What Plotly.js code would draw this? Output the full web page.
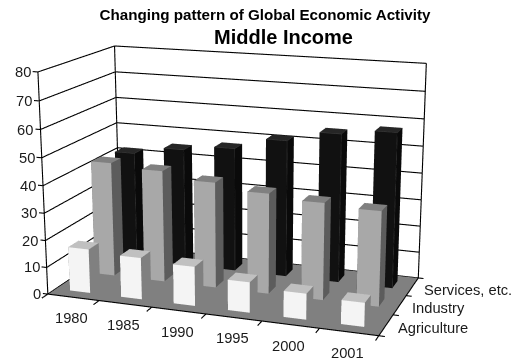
<!DOCTYPE html>
<html>
<head>
<meta charset="utf-8">
<script src="https://cdn.plot.ly/plotly-3.0.1.min.js"></script>
<style>
html,body{margin:0;padding:0;width:528px;height:364px;overflow:hidden;background:#fff}
#chart{position:absolute;left:-282px;top:-332px;width:1062px;height:1062px}
</style>
</head>
<body>
<div id="chart"></div>
<script>
// Changing pattern of global economic activity: share of output by sector, 3D columns
const years = ["1980","1985","1990","1995","2000","2001"];
const sectors = ["Agriculture","Industry","Services, etc."];
const agriculture = [16.3,15.3,14.3,11,9.3,8.5];
const industry = [43,41.7,39.2,37,35.5,34.5];
const services = [42,45,47,51.5,55.5,57.5];
const zTicks = [0,10,20,30,40,50,60,70,80];

const faceColors = [
  {front:"#f4f4f4", side:"#808080", top:"#c0c0c0"},
  {front:"#a8a8a8", side:"#5c5c5c", top:"#808080"},
  {front:"#111111", side:"#0a0a0a", top:"#262626"}
];
const floorColor = "#808080";
const barLo = 0.28, barHi = 0.68, depthLo = 0.3, depthHi = 0.7;
const plotSize = 1062, offsetX = -282, offsetY = -332;

// One mesh per sector, holding a box for every year
function columns(values, depthIndex, col){
  const m = {type:"mesh3d", x:[], y:[], z:[], i:[], j:[], k:[], facecolor:[], flatshading:true,
    lighting:{ambient:1,diffuse:0,specular:0,fresnel:0,roughness:1}, hoverinfo:"skip", showscale:false};
  values.forEach((v, c) => {
    const n = m.x.length;
    [[0,0],[1,0],[1,1],[0,1]].forEach(([a,b]) => {
      [0,v].forEach(h => {
        m.x.push(c + (a ? barHi : barLo));
        m.y.push(depthIndex + (b ? depthHi : depthLo));
        m.z.push(h);
      });
    });
    // vertices: 0/1 front-left, 2/3 front-right, 4/5 back-right, 6/7 back-left
    const quad = (p,q,r,s,color) => {
      m.i.push(n+p,n+p); m.j.push(n+q,n+r); m.k.push(n+r,n+s);
      m.facecolor.push(color,color);
    };
    quad(0,2,3,1,col.front);
    quad(2,4,5,3,col.side);
    quad(1,3,5,7,col.top);
    quad(6,0,1,7,col.side);
    quad(4,6,7,5,col.side);
  });
  return m;
}

const nx = years.length, ny = sectors.length, zMax = zTicks[zTicks.length-1];

// Floor of the box
const floor = {type:"mesh3d", x:[0,nx,nx,0], y:[0,0,ny,ny], z:[-0.05,-0.05,-0.05,-0.05], i:[0,0], j:[1,2], k:[2,3],
  facecolor:[floorColor,floorColor], flatshading:true,
  lighting:{ambient:1,diffuse:0,specular:0,fresnel:0,roughness:1}, hoverinfo:"skip", showscale:false};

// Frame edges, wall gridlines and tick marks of the box, as one broken line
const fx=[], fy=[], fz=[];
function seg(a,b){ fx.push(a[0],b[0],null); fy.push(a[1],b[1],null); fz.push(a[2],b[2],null); }
seg([0,0,0],[nx,0,0]); seg([nx,0,0],[nx,ny,0]);
seg([0,0,0],[0,0,zMax]); seg([0,ny,0],[0,ny,zMax]); seg([nx,ny,0],[nx,ny,zMax]);
zTicks.forEach(t => {
  seg([0,0,t],[0,ny,t]);
  seg([0,ny,t],[nx,ny,t]);
  seg([0,0,t],[-0.1,0,t]);
});
for(let i=0;i<=nx;i++) seg([i,0,0],[i,-0.22,0]);
for(let j=0;j<=ny;j++) seg([nx,j,0],[nx+0.1,j,0]);
const frame = {type:"scatter3d", mode:"lines", x:fx, y:fy, z:fz, connectgaps:false,
  line:{color:"#000000", width:2.2}, hoverinfo:"skip", showlegend:false};

// Faint highlights along the edges of the dark columns
const ex=[], ey=[], ez=[];
services.forEach((v,c) => {
  const xl=c+barLo, xr=c+barHi, yf=2+depthLo, yb=2+depthHi;
  [[[xr,yf,0],[xr,yf,v]], [[xl,yf,v],[xr,yf,v]], [[xr,yf,v],[xr,yb,v]]].forEach(([a,b]) => {
    ex.push(a[0],b[0],null); ey.push(a[1],b[1],null); ez.push(a[2],b[2],null);
  });
});
const darkEdges = {type:"scatter3d", mode:"lines", x:ex, y:ey, z:ez, connectgaps:false,
  line:{color:"#3a3a3a", width:1.2}, hoverinfo:"skip", showlegend:false};

const labelFont = {family:"Liberation Sans, Arial, sans-serif", size:14.7, color:"#1a1a1a"};
const sceneNotes = [];
zTicks.forEach(t => sceneNotes.push({x:0,y:0,z:t,text:String(t),showarrow:false,xanchor:"right",xshift:-5,font:labelFont}));
years.forEach((y,i) => sceneNotes.push({x:i+0.5,y:0,z:0,text:y,showarrow:false,xshift:-1.5,yshift:-21,font:labelFont}));
sectors.forEach((s,j) => sceneNotes.push({x:nx,y:j+0.5,z:0,text:s,showarrow:false,xanchor:"left",xshift:10,yshift:-3,font:labelFont}));

const bareAxis = {showgrid:false, zeroline:false, showticklabels:false, ticks:"", showline:false,
  showspikes:false, title:{text:""}, showbackground:false};

const layout = {
  width:plotSize, height:plotSize, margin:{l:0,r:0,t:0,b:0},
  paper_bgcolor:"#ffffff", showlegend:false,
  title:{text:"Changing pattern of Global Economic Activity",
    font:{family:"Liberation Sans, Arial, sans-serif",size:15.2,color:"#000",weight:700},
    x:(265-offsetX)/plotSize, xanchor:"center", y:1-(15-offsetY)/plotSize, yanchor:"middle", xref:"paper", yref:"paper"},
  annotations:[{text:"<b>Middle Income</b>", xref:"paper", yref:"paper", showarrow:false,
    x:(283-offsetX)/plotSize, y:1-(37-offsetY)/plotSize, xanchor:"center", yanchor:"middle",
    font:{family:"Liberation Sans, Arial, sans-serif",size:20,color:"#000"}}],
  scene:{
    domain:{x:[0,1],y:[0,1]},
    aspectmode:"manual", aspectratio:{x:1.98*6.2/6,y:1.08,z:1.31*81/80},
    camera:{eye:{x:2.456,y:-6.774+0.0333,z:1.886}, center:{x:0.081,y:-0.005+0.0333,z:-0.110}, up:{x:0,y:0,z:1},
      projection:{type:"perspective"}},
    xaxis:Object.assign({},bareAxis,{range:[-0.1,nx+0.1]}),
    yaxis:Object.assign({},bareAxis,{range:[-0.22,ny+0.02]}),
    zaxis:Object.assign({},bareAxis,{range:[-0.5,zMax+0.5]}),
    annotations:sceneNotes
  }
};

Plotly.newPlot("chart", [
  floor,
  columns(services,2,faceColors[2]),
  columns(industry,1,faceColors[1]),
  columns(agriculture,0,faceColors[0]),
  frame,
  darkEdges
], layout, {displayModeBar:false});
</script>
</body>
</html>
